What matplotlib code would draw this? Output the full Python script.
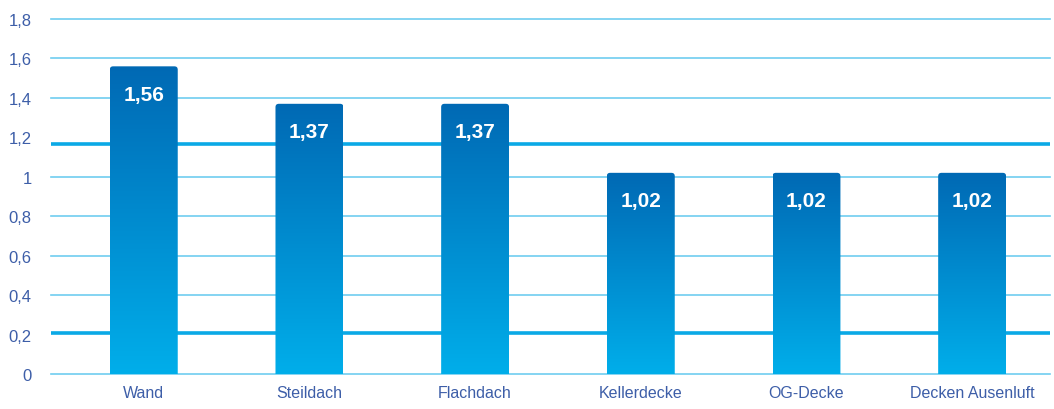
import numpy as np
import matplotlib.pyplot as plt
from matplotlib import font_manager
from matplotlib.patches import FancyBboxPatch

# U-Werte je Bauteil
categories = ["Wand", "Steildach", "Flachdach", "Kellerdecke", "OG-Decke", "Decken Ausenluft"]
values = [1.56, 1.37, 1.37, 1.02, 1.02, 1.02]
y_ticks = [0, 0.2, 0.4, 0.6, 0.8, 1.0, 1.2, 1.4, 1.6, 1.8]
y_tick_labels = ["0", "0,2", "0,4", "0,6", "0,8", "1", "1,2", "1,4", "1,6", "1,8"]

names = {f.name for f in font_manager.fontManager.ttflist}
axis_font = "Liberation Sans Narrow" if "Liberation Sans Narrow" in names else "Liberation Sans"

text_blue = "#3d5ea8"
grid_blue = "#6fcdf0"
accent_blue = "#0aa9e6"

fig = plt.figure(figsize=(10.54, 4.10), dpi=100)
ax = fig.add_axes([51 / 1054, 1 - 375 / 410, 999 / 1054, 355 / 410])
ax.set_xlim(-0.56, 5.47)
ax.set_ylim(0, 1.8)

# horizontal grid, two lines drawn heavier
for t in y_ticks:
    if t in (0.2, 1.2):
        continue
    ax.axhline(t, color=grid_blue, lw=1.2, zorder=1, clip_on=False)
ax.axhline(1.165, color=accent_blue, lw=2.6, zorder=1)
ax.axhline(0.21, color=accent_blue, lw=2.6, zorder=1)

x = np.arange(len(categories))
bars = ax.bar(x, values, width=0.41, color="none", edgecolor="none", zorder=2)

# vertical gradient inside each bar, top corners slightly rounded
grad = np.linspace(0, 1, 256).reshape(-1, 1)
cmap = plt.matplotlib.colors.LinearSegmentedColormap.from_list("bar", ["#00aeea", "#0069b4"])
for b in bars:
    x0, w, h = b.get_x(), b.get_width(), b.get_height()
    shape = FancyBboxPatch((x0, -0.05), w, h + 0.05, boxstyle="round,pad=0,rounding_size=0.02",
                           mutation_aspect=0.84, facecolor="none", edgecolor="none",
                           transform=ax.transData)
    ax.add_patch(shape)
    im = ax.imshow(grad, extent=[x0, x0 + w, 0, h], origin="lower", cmap=cmap,
                   aspect="auto", zorder=3)
    im.set_clip_path(shape)

for xi, v in zip(x, values):
    ax.annotate(f"{v:.2f}".replace(".", ","), (xi, v), xytext=(0, -20), textcoords="offset points",
                ha="center", va="center", color="white", fontsize=15, fontweight="bold",
                family="Liberation Sans", zorder=4)

ax.set_xlim(-0.56, 5.47)
ax.set_ylim(0, 1.8)
ax.set_xticks(x)
ax.set_xticklabels(categories, family=axis_font, fontsize=11.5, color=text_blue)
ax.set_yticks(y_ticks)
ax.set_yticklabels(y_tick_labels, family=axis_font, fontsize=12, color=text_blue)
ax.tick_params(length=0, axis="y", pad=14)
ax.tick_params(length=0, axis="x", pad=8)
for s in ax.spines.values():
    s.set_visible(False)

fig.savefig("out.png", dpi=100)
